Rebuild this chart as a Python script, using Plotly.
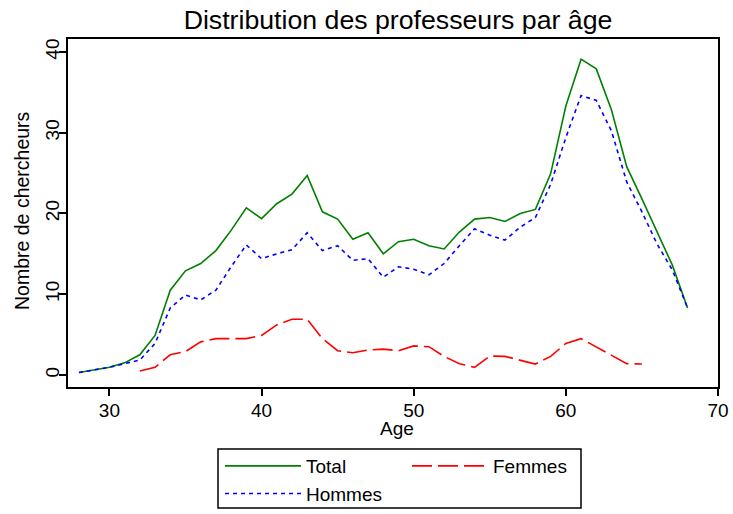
import plotly.graph_objects as go

# Data
ages = list(range(28, 69))
total = [0.3, 0.6, 0.95, 1.5, 2.5, 4.9, 10.5, 12.9, 13.8, 15.4, 17.9,
         20.7, 19.35, 21.2, 22.4, 24.7, 20.2, 19.3, 16.8, 17.6, 15.0,
         16.5, 16.8, 16.0, 15.6, 17.7, 19.3, 19.5, 19.0, 20.0, 20.5,
         24.9, 33.3, 39.1, 37.9, 32.8, 25.8, 21.8, 17.8, 13.6, 8.3]
hommes = [0.3, 0.6, 0.95, 1.4, 1.85, 3.9, 8.3, 9.9, 9.3, 10.5, 13.4,
          16.1, 14.4, 15.0, 15.5, 17.6, 15.4, 16.0, 14.2, 14.4, 12.1,
          13.4, 13.1, 12.4, 13.8, 16.0, 18.1, 17.3, 16.7, 18.3, 19.5,
          23.6, 29.4, 34.6, 34.0, 30.2, 23.9, 20.2, 16.2, 13.0, 8.3]
ages_f = list(range(32, 66))
femmes = [0.5, 0.95, 2.5, 2.9, 4.1, 4.5, 4.5, 4.5, 4.9, 6.2, 6.9, 6.9,
          4.5, 3.0, 2.75, 3.1, 3.2, 3.0, 3.6, 3.5, 2.3, 1.4, 0.95, 2.35,
          2.3, 1.85, 1.35, 2.3, 3.9, 4.5, 3.5, 2.5, 1.4, 1.35]

x_ticks = [30, 40, 50, 60, 70]
y_ticks = [0, 10, 20, 30, 40]

FONT = "Liberation Sans, Arial, sans-serif"
W, H = 733, 514
L, R, T, B = 68, 15, 39, 127
PW, PH = W - L - R, H - T - B

fig = go.Figure()
fig.add_trace(go.Scatter(x=ages, y=total, mode="lines", name="Total",
                         line=dict(color="#008000", width=1.6), legend="legend"))
fig.add_trace(go.Scatter(x=ages, y=hommes, mode="lines", name="Hommes",
                         line=dict(color="#0000ff", width=1.6, dash="4px,4px"),
                         legend="legend"))
fig.add_trace(go.Scatter(x=ages_f, y=femmes, mode="lines", name="Femmes",
                         line=dict(color="#ff0000", width=1.6, dash="20px,6px"),
                         legend="legend2"))

def px2paper_x(px):
    return (px - L) / PW

def py2paper_y(py):
    return (H - B - py) / PH

# legend frame
fig.add_shape(type="rect", xref="paper", yref="paper",
              x0=px2paper_x(218), x1=px2paper_x(581),
              y0=py2paper_y(508), y1=py2paper_y(449),
              line=dict(color="black", width=1.5), fillcolor="rgba(0,0,0,0)")

# axis titles
fig.add_annotation(text="Age", xref="paper", yref="paper",
                   x=px2paper_x(397), y=py2paper_y(429),
                   xanchor="center", yanchor="middle", showarrow=False,
                   font=dict(family=FONT, size=19, color="black"))
fig.add_annotation(text="Nombre de chercheurs", xref="paper", yref="paper",
                   x=px2paper_x(22), y=py2paper_y(211), textangle=-90,
                   xanchor="center", yanchor="middle", showarrow=False,
                   font=dict(family=FONT, size=19.5, color="black"))

leg_common = dict(font=dict(family=FONT, size=19, color="black"),
                  bgcolor="rgba(0,0,0,0)", borderwidth=0, itemwidth=76,
                  xref="container", yref="container", xanchor="left", yanchor="top",
                  tracegroupgap=0)

fig.update_layout(
    width=W, height=H,
    margin=dict(l=L, r=R, t=T, b=B, autoexpand=False),
    paper_bgcolor="white", plot_bgcolor="white",
    font=dict(family=FONT, size=19, color="black"),
    title=dict(text="Distribution des professeurs par âge",
               font=dict(family=FONT, size=26.7, color="black"),
               x=398 / W, xref="container", xanchor="center",
               y=1 - 20 / H, yref="container", yanchor="middle"),
    showlegend=True,
    legend=dict(x=220 / W, y=1 - 447 / H, **leg_common),
    legend2=dict(x=407 / W, y=1 - 447 / H, **leg_common),
    xaxis=dict(range=[27.28, 70.0], tickvals=x_ticks, ticks="outside", ticklen=7,
               tickwidth=1.5, tickcolor="black", showline=True, linecolor="black",
               linewidth=2, mirror=True, showgrid=False, zeroline=False,
               tickfont=dict(size=19), automargin=False, ticklabelstandoff=-2),
    yaxis=dict(range=[-1.49, 41.6], tickvals=y_ticks, ticks="outside", ticklen=7,
               tickwidth=1.5, tickcolor="black", showline=True, linecolor="black",
               linewidth=2, mirror=True, showgrid=False, zeroline=False,
               tickangle=-90, tickfont=dict(size=19), automargin=False,
               ticklabelstandoff=-8),
)

fig.write_html("out.html", config={"displayModeBar": False},
               post_script="document.body.style.margin='0';")
